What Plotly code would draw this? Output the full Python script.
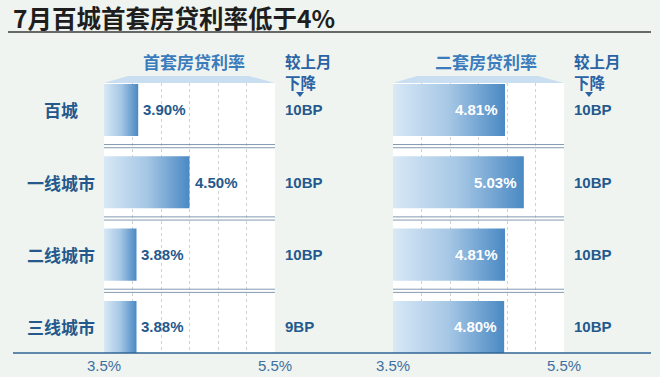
import plotly.graph_objects as go

# ---- data ----
cities = ["百城", "一线城市", "二线城市", "三线城市"]
first_rate = [3.90, 4.50, 3.88, 3.88]
second_rate = [4.81, 5.03, 4.81, 4.80]
first_drop = ["10BP", "10BP", "10BP", "9BP"]
second_drop = ["10BP", "10BP", "10BP", "10BP"]
x_min, x_max = 3.5, 5.5
tick_vals = [3.5, 3.5 + 1/3, 3.5 + 2/3, 4.5, 4.5 + 1/3, 4.5 + 2/3, 5.5]
tick_text = ["3.5%", "", "", "", "", "", "5.5%"]
title_text = "7月百城首套房贷利率低于4%"
panel_titles = ["首套房贷利率", "二套房贷利率"]
drop_header = ["较上月", "下降"]

W, H = 660, 377
CJK = "Noto Sans CJK SC, sans-serif"
LAT = "Liberation Sans, Arial, sans-serif"
DARK = "#25598c"
BG = "#eff4f0"

def px(x):
    return x / W

def py(y):
    return 1 - y / H

half = 0.36
fig = go.Figure()
grad = dict(type="horizontal", colorscale=[[0, "#d8e8f6"], [0.5, "#a6c7e5"], [1, "#4a89c3"]])

panels = [("x", "y", first_rate, first_drop, False, 283),
          ("x2", "y2", second_rate, second_drop, True, 572)]
annotations = []
shapes = []
for pi, (xr, yr, vals, drops, inside, bpx) in enumerate(panels):
    for i, v in enumerate(vals):
        fig.add_trace(go.Scatter(
            x=[x_min, v, v, x_min, x_min],
            y=[i - half, i - half, i + half, i + half, i - half],
            fill="toself", mode="lines", line=dict(width=0),
            fillgradient=grad, xaxis=xr, yaxis=yr, hoverinfo="skip", showlegend=False))
        if inside:
            annotations.append(dict(x=v, y=i, xref=xr, yref=yr, text=f"<b>{v:.2f}%</b>",
                                    showarrow=False, xanchor="right", xshift=-5,
                                    font=dict(family=LAT, size=15, color="white")))
        else:
            annotations.append(dict(x=v, y=i, xref=xr, yref=yr, text=f"<b>{v:.2f}%</b>",
                                    showarrow=False, xanchor="left", xshift=3,
                                    font=dict(family=LAT, size=15, color=DARK)))
        annotations.append(dict(x=px(bpx), y=i, xref="paper", yref=yr, text=f"<b>{drops[i]}</b>",
                                showarrow=False, xanchor="left",
                                font=dict(family=LAT, size=15, color=DARK)))
    for k in range(len(vals) - 1):
        for off in (-0.022, 0.022):
            shapes.append(dict(type="line", xref=xr, yref=yr, x0=x_min, x1=x_max,
                               y0=k + 0.5 + off, y1=k + 0.5 + off,
                               line=dict(color="#8399b0", width=1)))

for i, c in enumerate(cities):
    annotations.append(dict(x=px(61), y=i, xref="paper", yref="y", text=f"<b>{c}</b>",
                            showarrow=False, xanchor="center",
                            font=dict(family=CJK, size=17, color=DARK)))

for (cx, t, x0, x1, bx) in [(194, panel_titles[0], 104, 275, 283), (486, panel_titles[1], 393, 564, 572)]:
    annotations.append(dict(x=px(cx), y=py(61), xref="paper", yref="paper", text=f"<b>{t}</b>",
                            showarrow=False, xanchor="center", yanchor="middle",
                            font=dict(family=CJK, size=17, color="#3b7cbc")))
    for j, (txt, yy) in enumerate(zip(drop_header, (61, 82))):
        annotations.append(dict(x=px(bx), y=py(yy), xref="paper", yref="paper", text=f"<b>{txt}</b>",
                                showarrow=False, xanchor="left", yanchor="middle",
                                font=dict(family=CJK, size=15.5, color="#2a63a3")))
    tx = bx + 17
    shapes.append(dict(type="path", xref="paper", yref="paper",
                       path=f"M {px(tx-4)} {py(92)} L {px(tx+4)} {py(92)} L {px(tx)} {py(97)} Z",
                       fillcolor="#2a63a3", line=dict(width=0)))
    shapes.append(dict(type="path", xref="paper", yref="paper",
                       path=f"M {px(x0)} {py(83)} L {px(x0+24)} {py(76)} L {px(x1-26)} {py(76)} L {px(x1)} {py(83)} Z",
                       fillcolor="#c9def1", line=dict(width=0), layer="below"))

annotations.append(dict(x=px(11), y=py(17), xref="paper", yref="paper", text=f"<b>{title_text}</b>",
                        showarrow=False, xanchor="left", yanchor="middle",
                        font=dict(family=CJK, size=24.5, color="#1e1e1e")))
shapes.append(dict(type="line", xref="paper", yref="paper", x0=px(8), x1=px(651), y0=py(32), y1=py(32),
                   line=dict(color="#3a3a3a", width=1.5)))
shapes.append(dict(type="line", xref="paper", yref="paper", x0=px(13), x1=px(651), y0=py(353), y1=py(353),
                   line=dict(color="#2f6496", width=1.5)))

xaxis_common = dict(range=[x_min, x_max], tickvals=tick_vals, ticktext=tick_text, showgrid=True,
                    gridcolor="#cdd2d8", griddash="dot", gridwidth=1, zeroline=False, showline=False,
                    ticks="", ticklabelstandoff=2,
                    tickfont=dict(family=LAT, size=15, color="#3f6f9f"), fixedrange=True,
                    automargin=False)
yaxis_common = dict(range=[3.36, -0.373], showgrid=False, zeroline=False, showticklabels=False,
                    domain=[py(353), py(83)], fixedrange=True, automargin=False)

fig.update_layout(
    width=W, height=H, margin=dict(l=0, r=0, t=0, b=0, pad=0, autoexpand=False), autosize=False,
    paper_bgcolor=BG, plot_bgcolor="white", showlegend=False,
    xaxis=dict(domain=[px(104), px(275)], anchor="y", **xaxis_common),
    xaxis2=dict(domain=[px(393), px(564)], anchor="y2", **xaxis_common),
    yaxis=dict(anchor="x", **yaxis_common),
    yaxis2=dict(anchor="x2", **yaxis_common),
    annotations=annotations, shapes=shapes,
)

fig.write_html("out.html", config={"displayModeBar": False},
               post_script="document.body.style.margin='0px';document.body.style.overflow='hidden';")
